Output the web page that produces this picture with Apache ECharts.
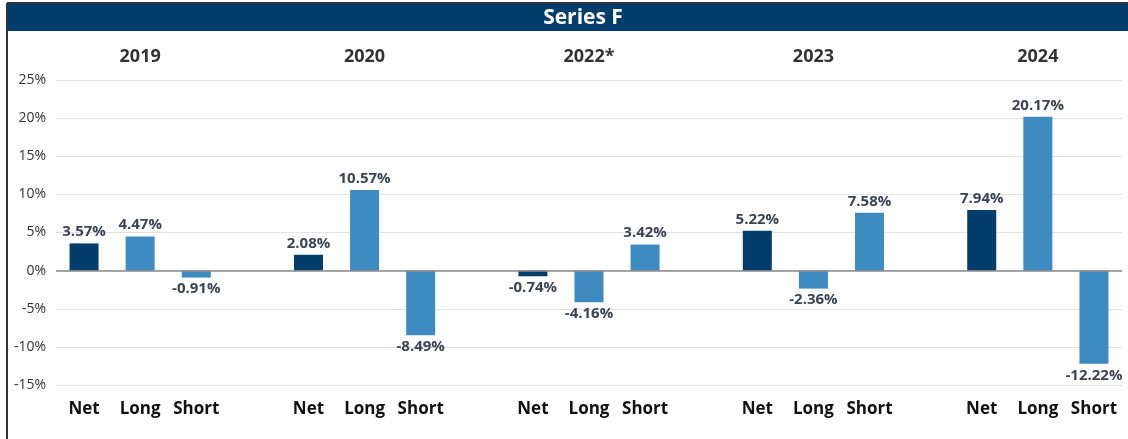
<!DOCTYPE html>
<html>
<head>
<meta charset="UTF-8">
<title>Series F</title>
<style>
  body{margin:0;padding:0;background:#fff;}
  #chart{width:1128px;height:439px;}
</style>
</head>
<body>
<div id="chart"></div>
<script src="https://cdn.jsdelivr.net/npm/echarts@6/dist/echarts.min.js"></script>
<script>
var years = ['2019', '2020', '2022*', '2023', '2024'];
var kinds = ['Net', 'Long', 'Short'];
var netVals = [3.57, 2.08, -0.74, 5.22, 7.94];
var longVals = [4.47, 10.57, -4.16, -2.36, 20.17];
var shortVals = [-0.91, -8.49, 3.42, 7.58, -12.22];

var navy = '#023d6b', blue = '#3e8bc2';

// build the slots: Net, Long, Short, (gap) per year
var cats = [], topCats = [], barData = [];
for (var i = 0; i < years.length; i++) {
  var vals = [netVals[i], longVals[i], shortVals[i]];
  for (var k = 0; k < 3; k++) {
    cats.push(kinds[k]);
    topCats.push(k == 1 ? years[i] : '');
    barData.push({value: vals[k], itemStyle: {color: k == 0 ? navy : blue},
      label: {position: vals[k] >= 0 ? 'top' : 'bottom'}});
  }
  if (i < years.length - 1) {
    cats.push('');
    topCats.push('');
    barData.push('-');
  }
}

var chart = echarts.init(document.getElementById('chart'));
chart.setOption({
  animation: false,
  textStyle: {fontFamily: 'Open Sans'},
  graphic: [
    {type: 'rect', shape: {x: 8, y: 4, width: 1120, height: 27}, style: {fill: navy}},
    {type: 'line', shape: {x1: 7, y1: 3, x2: 1128, y2: 3}, style: {stroke: '#333', lineWidth: 2}},
    {type: 'line', shape: {x1: 7, y1: 3, x2: 7, y2: 439}, style: {stroke: '#333', lineWidth: 2}},
    {type: 'text', x: 583, y: 18, style: {text: 'Series F', fill: '#fff', font: 'bold 21px "Open Sans"',
      textAlign: 'center', textVerticalAlign: 'middle'}}
  ],
  grid: {left: 56, right: 6, top: 80, bottom: 54},
  xAxis: [{
    type: 'category', data: cats, position: 'bottom',
    axisLine: {show: false, onZero: false}, axisTick: {show: false},
    axisLabel: {interval: 0, margin: 16, fontSize: 17, fontWeight: 'bold', color: '#111'}
  }, {
    type: 'category', data: topCats, position: 'top',
    axisLine: {show: false}, axisTick: {show: false},
    axisLabel: {interval: 0, margin: 14, fontSize: 18, fontWeight: 'bold', color: '#333'}
  }],
  yAxis: {
    type: 'value', min: -15, max: 25, interval: 5,
    axisLine: {show: false}, axisTick: {show: false},
    axisLabel: {formatter: '{value}%', fontSize: 14, color: '#333', margin: 10},
    splitLine: {lineStyle: {color: '#e2e2e2', width: 1}}
  },
  series: [{
    type: 'bar', data: barData, barWidth: 29,
    label: {show: true, distance: 4, fontSize: 15, fontWeight: 'bold', color: '#3a4456',
      formatter: function (p) { return p.value.toFixed(2) + '%'; }},
    markLine: {silent: true, symbol: 'none', label: {show: false},
      lineStyle: {color: '#8a8a8a', type: 'solid', width: 1.5}, data: [{yAxis: 0}]}
  }]
});
</script>
</body>
</html>
